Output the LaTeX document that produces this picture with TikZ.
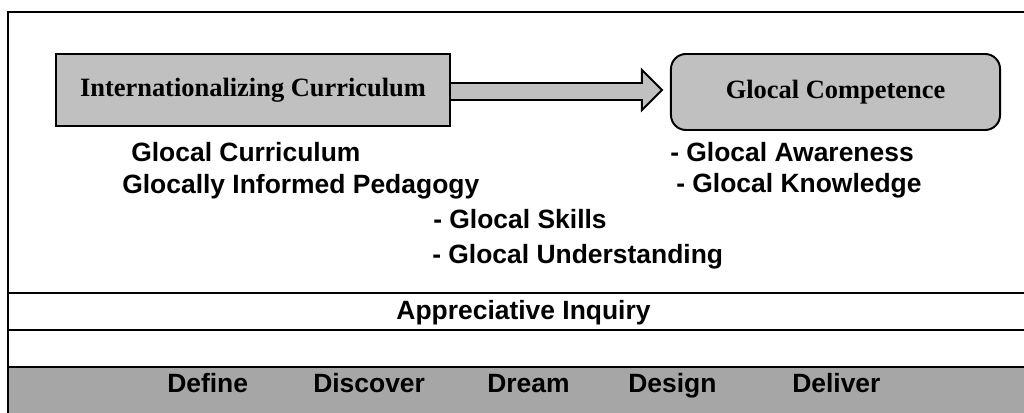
\documentclass[tikz,border=0pt]{standalone}
\usepackage{fontspec}
\setmainfont{Liberation Sans}
\newfontfamily\boxfont{Liberation Serif}
\usetikzlibrary{calc}

\definecolor{boxgray}{RGB}{192,192,192}
\definecolor{bargray}{RGB}{166,166,166}

\tikzset{
    frame/.style={line width=1.4pt},
    stage/.style={draw, line width=1.4pt, fill=boxgray, inner sep=0pt,
        font=\boxfont\bfseries\fontsize{18.8}{22}\selectfont},
    item/.style={anchor=base west, inner sep=0pt,
        font=\bfseries\fontsize{18.8}{22}\selectfont},
    phase/.style={anchor=base, inner sep=0pt,
        font=\bfseries\fontsize{18.8}{22}\selectfont}
}

\begin{document}
\begin{tikzpicture}[x=0.025cm, y=-0.025cm]
        \useasboundingbox (0,0) rectangle (1024,413);

        % Outer frame and rows
        \fill[bargray] (8,367) rectangle (1040,420);
        \draw[frame] (1040,12) -- (8,12) -- (8,420);
        \draw[frame] (8,293) -- (1040,293);
        \draw[frame] (8,330) -- (1040,330);
        \draw[frame] (8,367) -- (1040,367);

        % Top boxes
        \node[stage, minimum width=9.85cm, minimum height=1.8cm] (intl) at (253,90) {Internationalizing Curriculum};
        \node[stage, rounded corners=0.375cm, minimum width=8.225cm, minimum height=1.9cm] (comp) at (835.5,92) {Glocal Competence};

        % Block arrow between them
        \coordinate (tip) at ($(comp.west)+(-8,-2)$);
        \draw[line width=1.4pt, fill=boxgray] ($(intl.east)+(0,-7)$) -| ($(tip)+(-20,-20)$) -- (tip)
            -- ($(tip)+(-20,20)$) |- ($(intl.east)+(0,10)$);

        % Items under the boxes
        \node[item] (curr) at (131,162) {Glocal Curriculum};
        \node[item] (peda) at (122,193) {Glocally Informed Pedagogy};
        \node[item] (aware) at (670,162) {- Glocal Awareness};
        \node[item] (know) at (676,192) {- Glocal Knowledge};
        \node[item] (skill) at (433,228) {- Glocal Skills};
        \node[item] (under) at (432,263) {- Glocal Understanding};

        % Appreciative Inquiry
        \node[phase] (ai) at (523.5,319) {Appreciative Inquiry};
        \node[item] (define) at (167,392) {Define};
        \node[item] (discover) at (313,392) {Discover};
        \node[item] (dream) at (487,392) {Dream};
        \node[item] (design) at (628,392) {Design};
        \node[item] (deliver) at (792,392) {Deliver};
\end{tikzpicture}
\end{document}
